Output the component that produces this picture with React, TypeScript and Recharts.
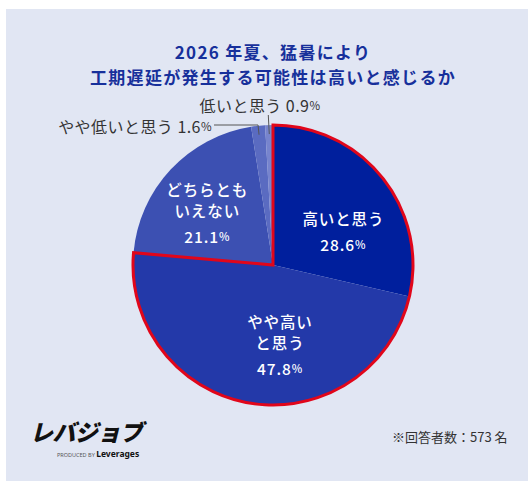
import { PieChart, Pie, Cell } from "recharts";

const categories = ["高いと思う", "やや高いと思う", "どちらともいえない", "やや低いと思う", "低いと思う"];
const shares = [28.6, 47.8, 21.1, 1.6, 0.9];
const labelLines = [["高いと思う"], ["やや高い", "と思う"], ["どちらとも", "いえない"], ["やや低いと思う"], ["低いと思う"]];
const highlighted = [0, 1];

const SLICE_COLORS = ["#001f9d", "#2339a9", "#3c50b2", "#5a6bc1", "#7784cd"];
const RED = "#e1061a";
const FONT = "'Noto Sans CJK JP', 'Noto Sans', sans-serif";
// label placement tweaks for inside labels: radius + angle shift from the slice middle
const INSIDE_POS: Record<number, { r: number; shift: number }> = {
  0: { r: 78, shift: -13 },
  1: { r: 80, shift: 14 },
  2: { r: 84, shift: 4.5 },
};
const RADIAN = Math.PI / 180;

const data = categories.map((name, i) => ({ name, value: shares[i] }));
const highSum = highlighted.reduce((s, i) => s + shares[i], 0);
const outlineData = [
  { name: "high", value: highSum },
  { name: "rest", value: 100 - highSum },
];

function Pct({ v, size }: { v: number; size: number }) {
  return (
    <>
      <tspan>{v.toFixed(1)}</tspan>
      <tspan fontSize={size * 0.72}>%</tspan>
    </>
  );
}

function renderLabel(props: any) {
  const { cx, cy, midAngle, outerRadius, index } = props;
  const v = shares[index];
  const lines = labelLines[index];
  if (INSIDE_POS[index]) {
    const { r, shift } = INSIDE_POS[index];
    const a = -(midAngle + shift) * RADIAN;
    const x = cx + r * Math.cos(a);
    const y = cy + r * Math.sin(a);
    const total = (lines.length - 1) * 21 + 26;
    const top = y - total / 2;
    return (
      <g fontFamily={FONT} fill="#ffffff" fontSize={15.5} fontWeight={500} letterSpacing={0.9}>
        {lines.map((ln, k) => (
          <text key={k} x={x} y={top + k * 21} textAnchor="middle" dominantBaseline="central">
            {ln}
          </text>
        ))}
        <text x={x} y={top + (lines.length - 1) * 21 + 26} textAnchor="middle" dominantBaseline="central">
          <Pct v={v} size={15.5} />
        </text>
      </g>
    );
  }
  // small slices: outside labels with leader lines
  const a = midAngle * RADIAN;
  const x0 = cx + (outerRadius - 9) * Math.cos(a);
  const y0 = cy - (outerRadius - 9) * Math.sin(a);
  if (index === 3) {
    const yTop = cy - outerRadius;
    const xEnd = cx - 59;
    return (
      <g>
        <polyline points={`${x0},${y0} ${x0 - 1},${yTop} ${xEnd},${yTop}`} fill="none" stroke="#555" strokeWidth={1} />
        <text x={xEnd - 2} y={yTop + 0.5} textAnchor="end" dominantBaseline="central" fontFamily={FONT} fontSize={16} fill="#333" letterSpacing={0.45}>
          {lines[0]} <Pct v={v} size={16} />
        </text>
      </g>
    );
  }
  const yTop = cy - outerRadius - 10;
  return (
    <g>
      <line x1={x0} y1={y0} x2={x0 - 1} y2={yTop} stroke="#555" strokeWidth={1} />
      <text x={cx - 13} y={yTop - 10} textAnchor="middle" dominantBaseline="central" fontFamily={FONT} fontSize={16} fill="#333" letterSpacing={0.45}>
        {lines[0]} <Pct v={v} size={16} />
      </text>
    </g>
  );
}

export default function App() {
  return (
    <div style={{ position: "relative", width: 528, height: 481, background: "#ffffff", overflow: "hidden" }}>
      <style>{`body{margin:0}`}</style>
      <div style={{ position: "absolute", left: 6, top: 9, right: 0, bottom: 0, background: "#e1e6f3" }} />
      <div
        style={{
          position: "absolute",
          left: 3,
          top: 39,
          width: 540,
          textAlign: "center",
          fontFamily: FONT,
          fontWeight: 700,
          fontSize: 17,
          lineHeight: "25px",
          letterSpacing: 1.3,
          color: "#17309b",
        }}
      >
        2026 年夏、猛暑により
        <br />
        工期遅延が発生する可能性は高いと感じるか
      </div>
      <div style={{ position: "absolute", left: 0, top: 0 }}>
        <PieChart width={528} height={481} margin={{ top: 0, right: 0, bottom: 0, left: 0 }}>
          <Pie
            data={data}
            dataKey="value"
            cx={273}
            cy={265}
            outerRadius={140}
            startAngle={90}
            endAngle={-270}
            stroke="none"
            label={renderLabel}
            labelLine={false}
            isAnimationActive={false}
          >
            {data.map((d, i) => (
              <Cell key={d.name} fill={SLICE_COLORS[i]} />
            ))}
          </Pie>
          <Pie
            data={outlineData}
            dataKey="value"
            cx={273}
            cy={265}
            outerRadius={140}
            startAngle={90}
            endAngle={-270}
            isAnimationActive={false}
            labelLine={false}
          >
            <Cell fill="none" stroke={RED} strokeWidth={3} strokeLinejoin="miter" />
            <Cell fill="none" stroke="none" />
          </Pie>
        </PieChart>
      </div>
      <div
        style={{
          position: "absolute",
          left: 30,
          top: 415,
          fontFamily: FONT,
          fontWeight: 900,
          fontStyle: "italic",
          fontSize: 23,
          letterSpacing: -0.5,
          color: "#111",
          lineHeight: "32px",
        }}
      >
        レバジョブ
      </div>
      <div style={{ position: "absolute", left: 57, top: 446, fontFamily: "'Noto Sans', sans-serif", lineHeight: "10px", whiteSpace: "nowrap" }}>
        <span style={{ fontSize: 5.5, color: "#555" }}>PRODUCED BY </span>
        <span style={{ fontSize: 8.5, fontWeight: 700, color: "#111" }}>Leverages</span>
      </div>
      <div
        style={{
          position: "absolute",
          left: 392,
          top: 428,
          fontFamily: FONT,
          fontSize: 13,
          color: "#333",
          lineHeight: "18px",
          whiteSpace: "nowrap",
        }}
      >
        ※回答者数：573 名
      </div>
    </div>
  );
}
